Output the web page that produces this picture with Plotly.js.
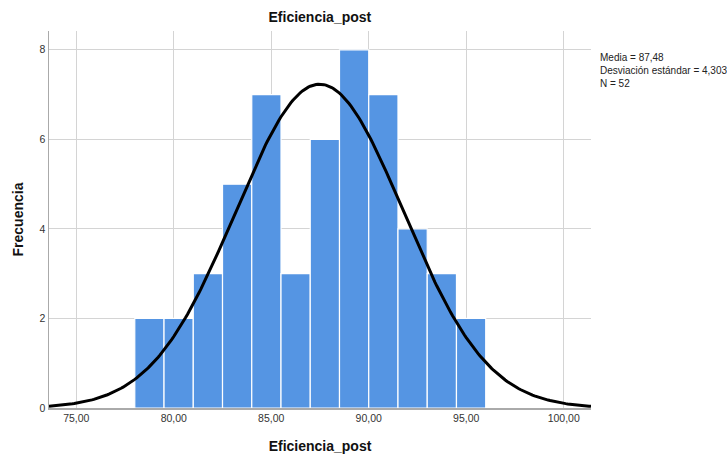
<!DOCTYPE html>
<html><head><meta charset="utf-8">
<script src="https://cdn.plot.ly/plotly-3.0.1.min.js"></script>
<style>body{margin:0;background:#fff}#c{width:727px;height:454px}</style>
</head><body><div id="c"></div>
<script>
const binStarts = [78, 79.5, 81, 82.5, 84, 85.5, 87, 88.5, 90, 91.5, 93, 94.5];
const binWidth = 1.5;
const counts = [2, 2, 3, 5, 7, 3, 6, 8, 7, 4, 3, 2];
const meanVal = 87.48, sdVal = 4.303, nVal = 52;
const xTickVals = [75, 80, 85, 90, 95, 100];
const xTickText = ['75,00', '80,00', '85,00', '90,00', '95,00', '100,00'];
const yTickVals = [0, 2, 4, 6, 8];

const centers = binStarts.map(s => s + binWidth / 2);
const cx = [], cy = [];
for (let x = 73.6; x <= 101.4; x += 0.1) {
  cx.push(x);
  cy.push(nVal * binWidth / (sdVal * Math.sqrt(2 * Math.PI)) * Math.exp(-0.5 * Math.pow((x - meanVal) / sdVal, 2)));
}

const data = [
  {type: 'bar', x: centers, y: counts, width: binWidth, marker: {color: '#5595e3', line: {color: '#ffffff', width: 1.2}}, hoverinfo: 'skip'},
  {type: 'scatter', mode: 'lines', x: cx, y: cy, line: {color: '#000', width: 3}, hoverinfo: 'skip'}
];
const layout = {
  width: 727, height: 454, showlegend: false,
  paper_bgcolor: '#fff', plot_bgcolor: '#fff',
  margin: {l: 49, r: 136, t: 31, b: 46},
  font: {family: 'Liberation Sans, Arial, sans-serif', size: 11, color: '#222'},
  title: {text: '<b>Eficiencia_post</b>', x: 0.44, xanchor: 'center', y: 0.962, yanchor: 'middle', font: {size: 14, color: '#111'}},
  xaxis: {range: [73.6, 101.4], tickvals: xTickVals, ticktext: xTickText, showgrid: true, gridcolor: '#d4d4d4', gridwidth: 1,
    showline: true, linecolor: '#aaaaaa', linewidth: 1.5, ticks: '', zeroline: false, tickfont: {size: 10.5, color: '#333'},
    title: {text: '<b>Eficiencia_post</b>', font: {size: 14, color: '#111'}, standoff: 18}},
  yaxis: {range: [0, 8.42], tickvals: yTickVals, showgrid: true, gridcolor: '#d4d4d4', gridwidth: 1,
    showline: true, linecolor: '#aaaaaa', linewidth: 1.5, ticks: '', zeroline: false, tickfont: {size: 10.5, color: '#333'},
    title: {text: '<b>Frecuencia</b>', font: {size: 14, color: '#111'}, standoff: 12}},
  annotations: [{xref: 'paper', yref: 'paper', x: 1.013, y: 0.95, xanchor: 'left', yanchor: 'top', align: 'left', showarrow: false,
    text: 'Media = 87,48<br>Desviación estándar = 4,303<br>N = 52', font: {size: 10, color: '#222'}}]
};
Plotly.newPlot('c', data, layout, {staticPlot: true, displayModeBar: false});
</script></body></html>
